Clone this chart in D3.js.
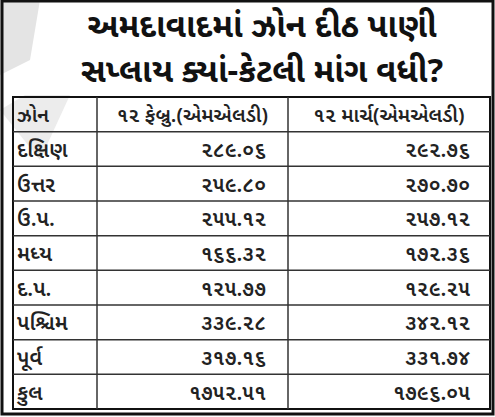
<!DOCTYPE html>
<html><head><meta charset="utf-8">
<script src="https://cdn.jsdelivr.net/npm/d3@7"></script>
<style>body{margin:0;background:#fff}svg{display:block}text{font-family:"Noto Sans Gujarati","Lohit Gujarati","Noto Sans",sans-serif}</style>
</head><body><svg id="c" width="495" height="417"></svg>
<script>
const titleLines = ["અમદાવાદમાં ઝોન દીઠ પાણી", "સપ્લાય ક્યાં-કેટલી માંગ વધી?"];
const headers = ["ઝોન", "૧૨ ફેબ્રુ.(એમએલડી)", "૧૨ માર્ચ(એમએલડી)"];
const zones = ["દક્ષિણ", "ઉત્તર", "ઉ.પ.", "મધ્ય", "દ.પ.", "પશ્ચિમ", "પૂર્વ", "કુલ"];
const feb = [289.06, 259.80, 255.12, 166.32, 125.77, 339.28, 317.16, 1752.51];
const mar = [292.76, 270.70, 257.12, 172.36, 129.25, 342.12, 331.74, 1796.05];

const guj = s => s.replace(/[0-9]/g, d => "૦૧૨૩૪૫૬૭૮૯"[+d]);
const svg = d3.select("#c");
svg.append("path").attr("d","M0,0 L40,0 L30,60 L0,75 Z").attr("fill","#e4e4e4");
svg.append("path").attr("d","M0,110 L25,95 L70,95 L40,160 Z").attr("fill","#ececec");
svg.append("rect").attr("x",2).attr("y",1).attr("width",491).attr("height",413)
  .attr("fill","none").attr("stroke","#111").attr("stroke-width",3);
svg.selectAll(".t").data(titleLines).join("text")
  .attr("x",262).attr("y",(d,i)=>37+i*45).attr("text-anchor","middle")
  .attr("font-size",33).attr("font-weight","bold").attr("fill","#111").text(d=>d);

const rows = [headers].concat(zones.map((z,i)=>[z, guj(feb[i].toFixed(2)), guj(mar[i].toFixed(2))]));
const y = d3.scaleBand().domain(d3.range(rows.length)).range([97,409]);
const colX = [13,97,288,490];
const g = svg.append("g");
g.append("rect").attr("x",13).attr("y",97).attr("width",477).attr("height",312)
  .attr("fill","none").attr("stroke","#111").attr("stroke-width",2);
g.selectAll(".h").data(d3.range(1,rows.length)).join("line")
  .attr("x1",13).attr("x2",490).attr("y1",d=>y(d)).attr("y2",d=>y(d)).attr("stroke","#333").attr("stroke-width",1.5);
g.selectAll(".v").data([97,288]).join("line")
  .attr("x1",d=>d).attr("x2",d=>d).attr("y1",97).attr("y2",409).attr("stroke","#333").attr("stroke-width",1.5);
rows.forEach((r,i)=>{
  const cy = y(i)+y.bandwidth()/2+8;
  r.forEach((c,j)=>{
    const hdr = i===0;
    let x, anchor;
    if(j===0){x=17;anchor="start";}
    else if(hdr){x=(colX[j]+colX[j+1])/2;anchor="middle";}
    else {x=colX[j+1]-( j===1?22:20);anchor="end";}
    g.append("text").attr("x",x).attr("y",cy).attr("text-anchor",anchor)
      .attr("font-size",hdr?20:21).attr("font-weight",600).attr("fill","#222").text(c);
  });
});
</script></body></html>
